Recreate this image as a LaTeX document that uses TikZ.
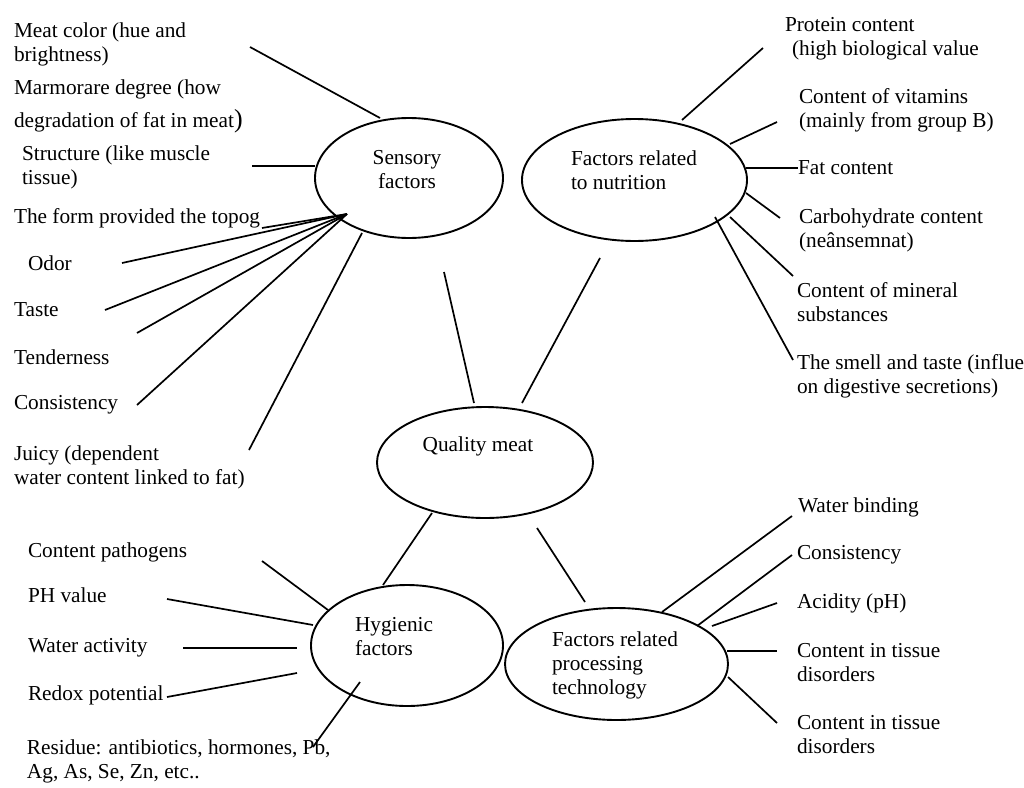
\documentclass[tikz,border=0pt]{standalone}
\usepackage{fontspec}
\setmainfont{Liberation Serif}
\usetikzlibrary{shapes.geometric}
\begin{document}
\begin{tikzpicture}[x=1pt,y=-1pt,
  txt/.style={inner sep=0pt, outer sep=0pt, font=\fontsize{21.3}{24}\selectfont},
  lbl/.style={txt, anchor=west, align=left},
  oval/.style={ellipse, draw, line width=1.9pt, inner sep=0pt},
  spoke/.style={line width=1.7pt}]
\useasboundingbox (0,0) rectangle (1024,787);
\clip (0,0) rectangle (1024,787);

% ---- central and group ellipses ----
\node[oval, minimum width=188, minimum height=120] (sens) at (409,178) {};
\node[oval, minimum width=225, minimum height=122] (nutr) at (634.5,180) {};
\node[oval, minimum width=216, minimum height=111] (qual) at (485,462.5) {};
\node[oval, minimum width=192, minimum height=121] (hyg) at (407,645.5) {};
\node[oval, minimum width=223, minimum height=112] (proc) at (616.5,664) {};

\node[txt, align=center] (senst) at (407,170) {Sensory\\factors};
\node[lbl] (nutrt) at (571,170.5) {Factors related\\to nutrition};
\node[txt] (qualt) at (478,446) {Quality meat};
\node[lbl] (hygt) at (355,637) {Hygienic\\factors};
\node[lbl] (proct) at (552,665) {Factors related\\processing\\technology};

% ---- links between the quality ellipse and the groups ----
\coordinate (sq1) at (444,272); \coordinate (sq2) at (474,403);
\coordinate (nq1) at (600,258); \coordinate (nq2) at (522,403);
\coordinate (qh1) at (432,513); \coordinate (qh2) at (383,585);
\coordinate (qp1) at (537,528); \coordinate (qp2) at (585,602);
\draw[spoke] (sq1) -- (sq2);
\draw[spoke] (nq1) -- (nq2);
\draw[spoke] (qh1) -- (qh2);
\draw[spoke] (qp1) -- (qp2);

% ---- sensory factors ----
\node[lbl] (s1) at (14,44.5) {Meat color (hue and\\brightness)};
\node[lbl] (s2) at (14,106.5) {Marmorare degree (how\\[9pt]degradation of fat in meat{\fontsize{26}{24}\selectfont)}};
\node[lbl] (s3) at (22,167.5) {Structure (like muscle\\tissue)};
\node[lbl] (s4) at (14,218) {The form provided the topog};
\node[lbl] (s5) at (28,263) {Odor};
\node[lbl] (s6) at (14,310) {Taste};
\node[lbl] (s7) at (14,357) {Tenderness};
\node[lbl] (s8) at (14,405) {Consistency};
\node[lbl] (s9) at (14,467) {Juicy (dependent\\water content linked to fat)};

\coordinate (hub) at (347,214);
\coordinate (e1a) at (250,47);  \coordinate (e1b) at (380,118);
\coordinate (e3a) at (252,166); \coordinate (e3b) at (315,166);
\coordinate (e4) at (262,228);
\coordinate (e5) at (122,263);
\coordinate (e6) at (105,310);
\coordinate (e7) at (137,333);
\coordinate (e8) at (137,405);
\coordinate (e9a) at (249,450); \coordinate (e9b) at (362,233);
\draw[spoke] (e1a) -- (e1b);
\draw[spoke] (e3a) -- (e3b);
\foreach \e in {e4,e5,e6,e7,e8} \draw[spoke] (\e) -- (hub);
\draw[spoke] (e9a) -- (e9b);

% ---- nutrition factors ----
\node[lbl] (n1) at (785,38.5) {Protein content\\\hspace*{7pt}(high biological value};
\node[lbl] (n2) at (799,110.5) {Content of vitamins\\(mainly from group B)};
\node[lbl] (n3) at (798,168) {Fat content};
\node[lbl] (n4) at (799,230.5) {Carbohydrate content\\(neânsemnat)};
\node[lbl] (n5) at (797,302.5) {Content of mineral\\substances};
\node[lbl] (n6) at (797,376) {The smell and taste (influence\\on digestive secretions)};

\coordinate (f1a) at (682,120); \coordinate (f1b) at (763,48);
\coordinate (f2a) at (730,144); \coordinate (f2b) at (777,122);
\coordinate (f3a) at (746,168); \coordinate (f3b) at (798,168);
\coordinate (f4a) at (746,193); \coordinate (f4b) at (780,218);
\coordinate (f5a) at (730,217); \coordinate (f5b) at (793,276);
\coordinate (f6a) at (715,217); \coordinate (f6b) at (793,360);
\foreach \i in {1,...,6} \draw[spoke] (f\i a) -- (f\i b);

% ---- hygienic factors ----
\node[lbl] (h1) at (28,552) {Content pathogens};
\node[lbl] (h2) at (28,595) {PH value};
\node[lbl] (h3) at (28,648) {Water activity};
\node[lbl] (h4) at (28,695) {Redox potential};
\node[lbl] (h5) at (27,761.5) {Residue: antibiotics, hormones, Pb,\\Ag, As, Se, Zn, etc..};

\coordinate (g1a) at (262,561); \coordinate (g1b) at (328,610);
\coordinate (g2a) at (167,599); \coordinate (g2b) at (313,625);
\coordinate (g3a) at (183,648); \coordinate (g3b) at (297,648);
\coordinate (g4a) at (167,697); \coordinate (g4b) at (297,673);
\coordinate (g5a) at (360,682); \coordinate (g5b) at (313,747);
\foreach \i in {1,...,5} \draw[spoke] (g\i a) -- (g\i b);

% ---- processing technology factors ----
\node[lbl] (p1) at (798,507) {Water binding};
\node[lbl] (p2) at (797,555) {Consistency};
\node[lbl] (p3) at (797,603) {Acidity (pH)};
\node[lbl] (p4) at (797,663) {Content in tissue\\disorders};
\node[lbl] (p5) at (797,735) {Content in tissue\\disorders};

\coordinate (t1a) at (662,612); \coordinate (t1b) at (792,516);
\coordinate (t2a) at (697,626); \coordinate (t2b) at (792,555);
\coordinate (t3a) at (712,626); \coordinate (t3b) at (777,603);
\coordinate (t4a) at (727,651); \coordinate (t4b) at (777,651);
\coordinate (t5a) at (728,677); \coordinate (t5b) at (777,723);
\foreach \i in {1,...,5} \draw[spoke] (t\i a) -- (t\i b);
\end{tikzpicture}
\end{document}
